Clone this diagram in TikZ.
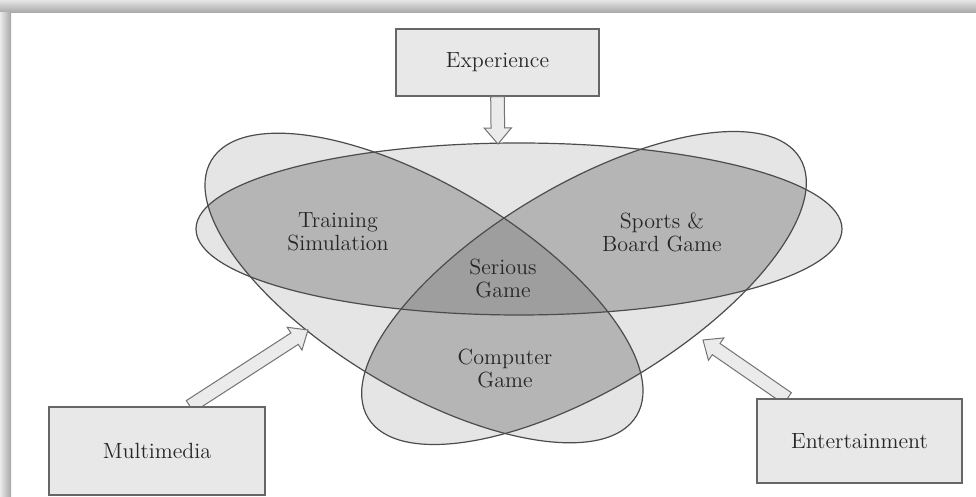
\documentclass[tikz,border=0pt]{standalone}
\usetikzlibrary{calc, positioning}

\colorlet{SingleArea}{black!10}
\colorlet{DoubleArea}{black!29}
\colorlet{TripleArea}{black!38}
\colorlet{BoxFill}{black!9}
\colorlet{OvalLine}{black!70}
\tikzset{
    every node/.style={font=\fontsize{11}{11.5}\selectfont},
    source box/.style={draw=black!60, line width=0.7pt, fill=BoxFill,
        text=black!85, inner sep=0pt},
    area label/.style={align=center, text=black!85},
    flow arrow/.style={draw=black!55, line width=0.5pt, fill=black!8},
    oval line/.style={draw=OvalLine, line width=0.6pt},
    left oval/.style={rotate around={-31:(LC)}},
    right oval/.style={rotate around={31:(RC)}}
}
% hollow arrow from #1 to #2
\newcommand{\flowarrow}[2]{%
    \draw[flow arrow]
        ($(#1)!3.4pt!90:(#2)$)
        -- ($(#2)!8pt!(#1)!3.4pt!-90:(#1)$)
        -- ($(#2)!8pt!(#1)!6.8pt!-90:(#1)$)
        -- (#2)
        -- ($(#2)!8pt!(#1)!6.8pt!90:(#1)$)
        -- ($(#2)!8pt!(#1)!3.4pt!90:(#1)$)
        -- ($(#1)!3.4pt!-90:(#2)$) -- cycle;}

\begin{document}
\begin{tikzpicture}[x=0.5pt, y=-0.5pt]

\useasboundingbox (0,0) rectangle (976,497);

% Sombra del marco
\shade[top color=black!10, bottom color=black!35] (0,0) rectangle (976,13);
\shade[left color=black!8, right color=black!35] (0,13) rectangle (11,497);

\coordinate (HC) at (519,229);
\coordinate (LC) at (424,288);
\coordinate (RC) at (584,288);

% Colorear superficies
\fill[SingleArea] (HC) ellipse [x radius=323, y radius=86];
\fill[SingleArea, left oval] (LC) ellipse [x radius=248, y radius=102];
\fill[SingleArea, right oval] (RC) ellipse [x radius=252, y radius=102];

\begin{scope}
    \clip (HC) ellipse [x radius=323, y radius=86];
    \fill[DoubleArea, left oval] (LC) ellipse [x radius=248, y radius=102];
    \fill[DoubleArea, right oval] (RC) ellipse [x radius=252, y radius=102];
\end{scope}
\begin{scope}
    \clip[left oval] (LC) ellipse [x radius=248, y radius=102];
    \fill[DoubleArea, right oval] (RC) ellipse [x radius=252, y radius=102];
    \clip[right oval] (RC) ellipse [x radius=252, y radius=102];
    \fill[TripleArea] (HC) ellipse [x radius=323, y radius=86];
\end{scope}

% Contornos
\draw[oval line] (HC) ellipse [x radius=323, y radius=86];
\draw[oval line, left oval] (LC) ellipse [x radius=248, y radius=102];
\draw[oval line, right oval] (RC) ellipse [x radius=252, y radius=102];

\node[area label] (training) at (338,232) {Training\\Simulation};
\node[area label] (sports) at (662,232) {Sports \&\\Board Game};
\node[area label] (serious) at (503,278) {Serious\\Game};
\node[area label] (computer) at (505,368) {Computer\\Game};

% Fuentes
\node[source box, minimum width=101.5pt, minimum height=33.5pt]
    (experience) at (497.5,62.5) {Experience};
\node[source box, minimum width=108pt, minimum height=44pt]
    (multimedia) at (157,451) {Multimedia};
\node[source box, minimum width=102.5pt, minimum height=42pt]
    (entertainment) at (859.5,441) {Entertainment};

\coordinate (ExpTip) at (498,144);
\coordinate (MultiFoot) at ($(multimedia.north)+(33,0)$);
\coordinate (MultiTip) at (308,330);
\coordinate (EntFoot) at ($(entertainment.north)+(-72,0)$);
\coordinate (EntTip) at (703,340);

\flowarrow{experience.south}{ExpTip}
\flowarrow{MultiFoot}{MultiTip}
\flowarrow{EntFoot}{EntTip}

% Redibujar cajas encima de las flechas
\node[source box, minimum width=108pt, minimum height=44pt]
    at (multimedia) {Multimedia};
\node[source box, minimum width=102.5pt, minimum height=42pt]
    at (entertainment) {Entertainment};

\end{tikzpicture}
\end{document}
